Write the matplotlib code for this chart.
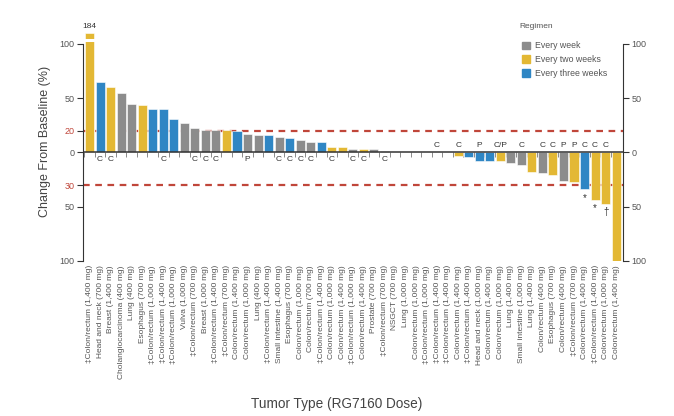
import matplotlib.pyplot as plt
from matplotlib.patches import Patch

plt.rcParams['font.family'] = ['Liberation Sans', 'DejaVu Sans']

tumors = [
    "‡Colon/rectum (1,400 mg)", "Head and neck (700 mg)", "Breast (1,400 mg)",
    "Cholangiocarcinoma (400 mg)", "Lung (400 mg)", "Esophagus (700 mg)",
    "‡Colon/rectum (1,000 mg)", "‡Colon/rectum (1,400 mg)", "‡Colon/rectum (1,000 mg)",
    "Vulva (1,000 mg)", "‡Colon/rectum (700 mg)", "Breast (1,000 mg)",
    "‡Colon/rectum (1,400 mg)", "‡Colon/rectum (700 mg)", "Colon/rectum (1,400 mg)",
    "Colon/rectum (1,000 mg)", "Lung (400 mg)", "‡Colon/rectum (1,400 mg)",
    "Small intestine (1,400 mg)", "Esophagus (700 mg)", "Colon/rectum (1,000 mg)",
    "Colon/rectum (700 mg)", "‡Colon/rectum (1,400 mg)", "Colon/rectum (1,000 mg)",
    "Colon/rectum (1,400 mg)", "‡Colon/rectum (1,000 mg)", "Colon/rectum (1,400 mg)",
    "Prostate (700 mg)", "‡Colon/rectum (700 mg)", "NSGCT (700 mg)",
    "Lung (1,000 mg)", "Colon/rectum (1,000 mg)", "‡Colon/rectum (1,000 mg)",
    "‡Colon/rectum (1,400 mg)", "‡Colon/rectum (1,400 mg)", "Colon/rectum (1,400 mg)",
    "‡Colon/rectum (1,400 mg)", "Head and neck (1,000 mg)", "Colon/rectum (1,400 mg)",
    "Colon/rectum (1,000 mg)", "Lung (1,400 mg)", "Small intestine (1,000 mg)",
    "Lung (1,400 mg)", "Colon/rectum (400 mg)", "Esophagus (700 mg)",
    "Colon/rectum (400 mg)", "‡Colon/rectum (700 mg)", "Colon/rectum (1,400 mg)",
    "‡Colon/rectum (1,400 mg)", "Colon/rectum (1,000 mg)", "Colon/rectum (1,400 mg)",
]

change = [
    184, 65, 60, 54.5, 45, 43.5, 40.5, 40.5, 30.5, 27.5,
    23, 21, 21, 21, 19.5, 17.5, 16, 16, 14.5, 13,
    11.5, 10, 10, 5, 5, 3, 3, 3, 1.5, 0,
    0, 0, 0, 0, 0, -3, -4.5, -7.5, -7.5, -7.5,
    -10, -11.5, -18, -19, -20.5, -26, -27.5, -34, -43.5, -47.5,
    -100,
]

# W = every week, T = every two weeks, H = every three weeks
regimen = list("THTWWTHHHWWWWTHWWHWHWWHTTWTWWWWWWWWTHHHTWWTWTWTHTTT")

marks = [
    "", "C", "C", "", "", "", "", "C", "", "",
    "C", "C", "C", "", "", "P", "", "", "C", "C",
    "C", "C", "", "C", "", "C", "C", "", "C", "",
    "", "", "", "C", "", "C", "", "P", "", "C/P",
    "", "C", "", "C", "C", "P", "P", "C", "C", "C",
    "",
]
notes = {47: "*", 48: "*", 49: "†"}

colors = {"W": "#8c8c8c", "T": "#e3b834", "H": "#2f86c4"}
red = "#c0463a"
txt = "#555555"

fig = plt.figure(figsize=(6.74, 4.16), dpi=100)
ax = fig.add_axes([0.1227, 0.3726, 0.8016, 0.5738])

x = list(range(len(change)))
shown = [min(v, 110) for v in change]
ax.bar(x, shown, width=0.86, color=[colors[r] for r in regimen],
       edgecolor="white", linewidth=0.4, zorder=2)

# axis break on the 184 bar
ax.plot([-0.43, 0.43], [104, 104], color="white", lw=2.2, zorder=3)
ax.text(0, 113, str(change[0]), ha="center", va="bottom", fontsize=6, color="#333333")

ax.axhline(20, color=red, lw=1.6, ls=(0, (3, 2.5)), zorder=1)
ax.axhline(-30, color=red, lw=1.6, ls=(0, (3, 2.5)), zorder=1)
ax.axhline(0, color="#333333", lw=1.1, zorder=4)

# small marks under the baseline at every bar edge
edges = [i - 0.5 for i in x]
ax.vlines(edges, -4, 0, color="#777777", lw=0.6, zorder=1)

for i, m in enumerate(marks):
    if not m:
        continue
    if change[i] > 0:
        ax.text(i, -3.5, m, ha="center", va="top", fontsize=6, color="#333333")
    else:
        ax.text(i, 3.5, m, ha="center", va="bottom", fontsize=6, color="#333333")
for i, n in notes.items():
    ax.text(i, change[i] - 3, n, ha="center", va="top", fontsize=7, color="#333333")

ax.set_xlim(-0.65, len(change) - 0.35)
ax.set_ylim(-100, 120)

ax.set_xticks(x)
ax.set_xticklabels(tumors, rotation=90, fontsize=6, color=txt)
ax.tick_params(axis="x", length=0, pad=3)

lticks = [-100, -50, -30, 0, 20, 50, 100]
ax.set_yticks(lticks)
ax.set_yticklabels([str(abs(t)) for t in lticks], fontsize=6.5, color=txt)
for t, lab in zip(lticks, ax.get_yticklabels()):
    if t in (20, -30):
        lab.set_color(red)
ax.tick_params(axis="y", length=4, width=0.8, color="#333333", pad=2)

for s in ["top", "bottom", "right"]:
    ax.spines[s].set_visible(False)
ax.spines["left"].set_bounds(-100, 100)
ax.spines["left"].set_color("#333333")

ax2 = ax.twinx()
ax2.set_ylim(-100, 120)
rticks = [-100, -50, 0, 50, 100]
ax2.set_yticks(rticks)
ax2.set_yticklabels([str(abs(t)) for t in rticks], fontsize=6.5, color=txt)
ax2.tick_params(axis="y", length=4, width=0.8, color="#333333", pad=2)
for s in ["top", "bottom", "left"]:
    ax2.spines[s].set_visible(False)
ax2.spines["right"].set_bounds(-100, 100)
ax2.spines["right"].set_color("#333333")

ax.set_ylabel("Change From Baseline (%)", fontsize=9, color="#444444", labelpad=6)
fig.text(0.5, 0.028, "Tumor Type (RG7160 Dose)", ha="center", va="center",
         fontsize=9.8, color="#444444")

fig.text(0.77, 0.9375, "Regimen", ha="left", va="center", fontsize=6, color=txt)
handles = [Patch(color=colors["W"], label="Every week"),
           Patch(color=colors["T"], label="Every two weeks"),
           Patch(color=colors["H"], label="Every three weeks")]
leg = ax2.legend(handles=handles, loc="upper left",
                 bbox_to_anchor=(0.768, 0.911), bbox_transform=fig.transFigure,
                 frameon=False, fontsize=6.3,
                 handlelength=0.95, handleheight=0.95, handletextpad=0.5,
                 labelspacing=0.55, borderpad=0)
for t in leg.get_texts():
    t.set_color(txt)

fig.savefig("out.png", dpi=100)
